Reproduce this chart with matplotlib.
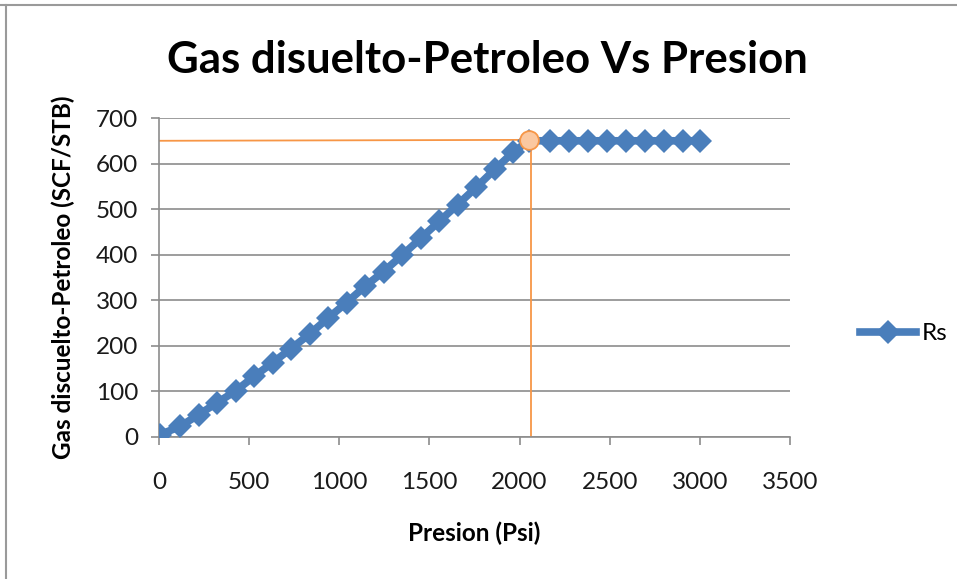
import numpy as np
import matplotlib.pyplot as plt
from matplotlib.lines import Line2D

# Rs vs pressure data
presion = [5, 117, 220, 322, 425, 528, 630, 733, 836, 938, 1041, 1144, 1246,
           1349, 1452, 1554, 1657, 1760, 1862, 1965, 2050,
           2170, 2275, 2380, 2485, 2590, 2695, 2800, 2905, 3000]
rs = [5, 23, 49, 75, 101, 133, 163, 194, 226, 261, 295, 331, 363,
      399, 436, 473, 510, 548, 587, 625, 650,
      650, 650, 650, 650, 650, 650, 650, 650, 650]

# bubble point
pb = 2055
rs_pb = 650

x_ticks = [0, 500, 1000, 1500, 2000, 2500, 3000, 3500]
y_ticks = [0, 100, 200, 300, 400, 500, 600, 700]

blue = '#4A7EBB'
orange = '#F79646'
grid_col = '#8C8C8C'

plt.rcParams['font.family'] = ['Lato', 'DejaVu Sans']

fig = plt.figure(figsize=(9.57, 5.79), dpi=100)
ax = fig.add_axes([0.1661, 0.2453, 0.6594, 0.5509])

ax.plot(presion, rs, color=blue, lw=5.5, marker='D', markersize=12.5,
        markeredgewidth=0, zorder=3, label='Rs')

# guide lines to the bubble point
ax.plot([0, pb - 15], [rs_pb, rs_pb + 2], color=orange, lw=1.3, zorder=2)
ax.plot([pb + 10, pb + 10], [rs_pb, 0], color=orange, lw=1.3, zorder=2)
ax.plot([pb], [rs_pb + 2], marker='o', markersize=13.5, color='#FBC8A0',
        markeredgecolor=orange, markeredgewidth=1.3, zorder=4)

ax.set_xlim(0, 3500)
ax.set_ylim(0, 700)
ax.set_xticks(x_ticks)
ax.set_yticks(y_ticks)
ax.yaxis.grid(True, color=grid_col, lw=1.2)
ax.set_axisbelow(True)

for s in ['top', 'right']:
    ax.spines[s].set_visible(False)
for s in ['left', 'bottom']:
    ax.spines[s].set_color(grid_col)
    ax.spines[s].set_linewidth(1.2)

ax.tick_params(axis='both', direction='out', color=grid_col, width=1.2,
               length=6, labelsize=17.5, labelcolor='#1a1a1a')
ax.tick_params(axis='x', pad=19)
ax.tick_params(axis='y', pad=9)

ax.set_xlabel('Presion (Psi)', fontsize=17.5, fontweight='bold', labelpad=21)
ax.set_ylabel('Gas discuelto-Petroleo (SCF/STB)', fontsize=17.5,
              fontweight='bold', labelpad=15)

fig.text(0.509, 0.897, 'Gas disuelto-Petroleo Vs Presion', ha='center',
         va='center', fontsize=31.5, fontweight='bold')

handle = Line2D([], [], color=blue, lw=5.5, marker='D', markersize=12.5,
                markeredgewidth=0)
fig.legend([handle], ['Rs'], loc='center left', bbox_to_anchor=(0.889, 0.424),
           frameon=False, fontsize=17.5, handlelength=2.3, handletextpad=0.2,
           borderaxespad=0)

# outer chart frame (only top and left visible)
fig.add_artist(Line2D([0, 1], [0.992, 0.992], color='#9a9a9a', lw=1.5,
                      transform=fig.transFigure))
fig.add_artist(Line2D([0.0065, 0.0065], [0, 0.992], color='#9a9a9a', lw=1.5,
                      transform=fig.transFigure))

fig.savefig('out.png', dpi=100)
